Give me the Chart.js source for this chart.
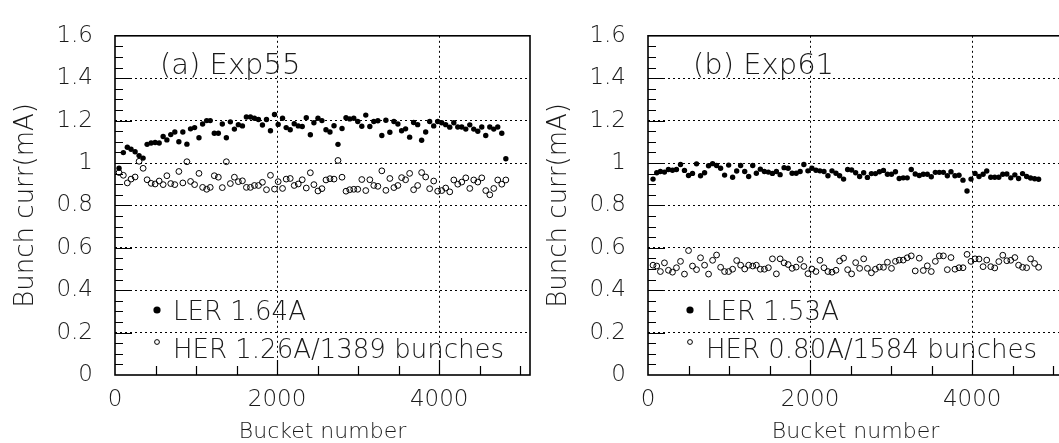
<!DOCTYPE html>
<html><head><meta charset="utf-8">
<script src="https://cdn.jsdelivr.net/npm/chart.js@4.4.1/dist/chart.umd.min.js"></script>
<style>
html,body{margin:0;padding:0;width:1059px;height:443px;overflow:hidden;background:#fff}
#wrap{position:relative;width:1059px;height:443px;overflow:hidden}
canvas{position:absolute;top:0}
#c1{left:0}
#c2{left:533px}
</style></head><body>
<div id="wrap"><canvas id="c1" width="545" height="443"></canvas><canvas id="c2" width="545" height="443"></canvas></div>
<script>
// ---------- data ----------
const bucketsA = [50,103,152,198,248,297,347,396,446,495,545,594,640,688,738,788,837,887,932,982,1036,1081,1131,1175,1225,1275,1324,1374,1423,1473,1522,1572,1621,1671,1720,1770,1819,1869,1918,1968,2013,2067,2112,2162,2211,2261,2310,2360,2410,2454,2504,2553,2603,2652,2702,2751,2801,2850,2896,2946,2995,3045,3094,3144,3193,3243,3292,3342,3391,3441,3490,3536,3585,3635,3684,3734,3783,3833,3882,3932,3981,4031,4080,4130,4180,4229,4278,4328,4377,4426,4476,4525,4574,4624,4673,4722,4772,4822];
const lerA = [0.975,1.049,1.074,1.065,1.053,1.035,1.023,1.088,1.094,1.097,1.094,1.125,1.109,1.134,1.146,1.100,1.146,1.089,1.161,1.167,1.119,1.184,1.200,1.200,1.140,1.140,1.184,1.119,1.194,1.160,1.181,1.175,1.217,1.217,1.211,1.205,1.179,1.205,1.152,1.229,1.182,1.211,1.167,1.157,1.185,1.175,1.172,1.214,1.133,1.190,1.211,1.200,1.157,1.146,1.176,1.088,1.163,1.214,1.208,1.211,1.196,1.173,1.226,1.172,1.196,1.199,1.130,1.202,1.145,1.196,1.184,1.152,1.161,1.122,1.191,1.181,1.107,1.146,1.196,1.175,1.196,1.190,1.181,1.169,1.19,1.17,1.17,1.16,1.18,1.16,1.15,1.17,1.13,1.17,1.16,1.17,1.14,1.02];
const herA = [0.955,0.942,0.906,0.924,0.934,1.008,0.975,0.921,0.904,0.901,0.915,0.898,0.940,0.903,0.898,0.960,0.906,1.006,0.913,0.898,0.951,0.885,0.876,0.885,0.940,0.933,0.884,1.006,0.903,0.933,0.912,0.916,0.885,0.885,0.894,0.894,0.909,0.874,0.942,0.877,0.912,0.880,0.924,0.927,0.894,0.901,0.921,0.882,0.954,0.898,0.868,0.879,0.920,0.926,0.924,1.012,0.933,0.867,0.874,0.876,0.876,0.922,0.870,0.921,0.894,0.890,0.963,0.871,0.927,0.884,0.894,0.931,0.921,0.951,0.874,0.894,0.955,0.934,0.879,0.915,0.867,0.870,0.882,0.864,0.92,0.90,0.91,0.93,0.88,0.92,0.91,0.93,0.87,0.85,0.88,0.92,0.90,0.92];

const bucketsB = [62,108,153,203,252,302,351,401,450,500,549,599,648,698,747,797,846,896,945,995,1044,1094,1143,1193,1242,1292,1337,1386,1436,1485,1535,1584,1630,1679,1729,1778,1828,1877,1923,1973,2022,2072,2121,2171,2220,2270,2319,2364,2413,2463,2512,2562,2611,2661,2707,2756,2806,2855,2905,2954,3004,3053,3099,3149,3198,3248,3297,3347,3396,3446,3495,3545,3594,3644,3693,3738,3787,3837,3886,3936,3985,4035,4084,4134,4179,4229,4278,4328,4377,4427,4476,4526,4572,4621,4671,4720,4770,4819];
const lerB = [0.924,0.954,0.960,0.957,0.969,0.966,0.969,0.993,0.965,0.941,0.951,0.996,0.940,0.954,0.987,0.997,0.988,0.975,0.943,0.990,0.933,0.962,0.988,0.960,0.936,0.988,0.952,0.971,0.960,0.957,0.951,0.960,0.945,0.978,0.975,0.952,0.952,0.960,0.993,0.963,0.975,0.966,0.963,0.960,0.940,0.963,0.952,0.940,0.924,0.969,0.967,0.954,0.936,0.954,0.932,0.950,0.950,0.959,0.965,0.947,0.947,0.959,0.927,0.930,0.930,0.969,0.948,0.941,0.947,0.947,0.935,0.956,0.956,0.956,0.940,0.959,0.940,0.942,0.919,0.868,0.924,0.951,0.936,0.947,0.962,0.933,0.933,0.933,0.947,0.948,0.930,0.944,0.927,0.950,0.936,0.929,0.926,0.923];
const herB = [0.518,0.514,0.488,0.529,0.494,0.485,0.506,0.536,0.476,0.587,0.514,0.497,0.553,0.518,0.476,0.541,0.566,0.508,0.488,0.488,0.499,0.540,0.518,0.500,0.518,0.514,0.518,0.499,0.499,0.506,0.548,0.477,0.548,0.529,0.521,0.503,0.509,0.545,0.512,0.478,0.500,0.488,0.541,0.506,0.488,0.485,0.494,0.538,0.551,0.497,0.477,0.530,0.503,0.548,0.503,0.482,0.499,0.509,0.508,0.532,0.503,0.536,0.542,0.542,0.553,0.562,0.491,0.551,0.493,0.515,0.488,0.536,0.562,0.562,0.497,0.554,0.499,0.506,0.506,0.569,0.536,0.548,0.547,0.511,0.542,0.511,0.505,0.535,0.565,0.539,0.541,0.554,0.518,0.508,0.506,0.548,0.526,0.508];

const yTickValues = [0,0.2,0.4,0.6,0.8,1,1.2,1.4,1.6];
const yGridValues = [0.2,0.4,0.6,0.8,1,1.2,1.4];
const xTickValues = [0,2000,4000];
const xGridValues = [2000,4000];
const panelTitles = ['(a) Exp55','(b) Exp61'];
const lerLabels = ['LER 1.64A','LER 1.53A'];
const herLabels = ['HER 1.26A/1389 bunches','HER 0.80A/1584 bunches'];
const yTitle = 'Bunch curr(mA)';
const xTitle = 'Bucket number';

// ---------- drawing ----------
const FONT = "'DejaVu Sans', 'Liberation Sans', sans-serif";
const W = 200;
const TXT = '#1a1a1a';

const decor = {
  id: 'decor',
  afterDraw(chart, args, opts) {
    const {ctx, chartArea: a, scales: {x, y}} = chart;
    ctx.save();
    ctx.strokeStyle = '#000';
    ctx.lineWidth = 1.2;
    ctx.beginPath();
    for (let k = 1; k < 32; k++) {
      const v = k * 0.05;
      const py = Math.round(y.getPixelForValue(v)) + 0.5;
      const len = (k % 4 === 0) ? 17 : 8;
      ctx.moveTo(a.left, py); ctx.lineTo(a.left + len, py);
    }
    for (let k = 1; k <= 10; k++) {
      const v = k * 500;
      const px = Math.round(x.getPixelForValue(v)) + 0.5;
      const len = (k % 4 === 0) ? 15 : 9;
      ctx.moveTo(px, a.bottom); ctx.lineTo(px, a.bottom - len);
    }
    ctx.stroke();
    // frame
    ctx.lineWidth = 1.6;
    ctx.strokeRect(a.left, a.top, a.right - a.left, a.bottom - a.top);
    // panel title
    ctx.fillStyle = TXT;
    ctx.font = `${W} 29px ${FONT}`;
    ctx.textBaseline = 'middle';
    ctx.textAlign = 'left';
    ctx.fillText(opts.title, a.left + 45, a.top + 31);
    // legend
    const ds = chart.data.datasets;
    ctx.font = `${W} 26px ${FONT}`;
    ctx.fillStyle = '#000';
    ctx.beginPath(); ctx.arc(a.left + 42, 310, 3.6, 0, Math.PI * 2); ctx.fill();
    ctx.fillStyle = TXT;
    ctx.fillText(ds[1].label, a.left + 58, 313);
    ctx.lineWidth = 1;
    ctx.beginPath(); ctx.arc(a.left + 42, 342, 2.4, 0, Math.PI * 2); ctx.stroke();
    ctx.fillText(ds[0].label, a.left + 58, 351);
    ctx.restore();
  }
};

function makeChart(id, buckets, ler, her, idx) {
  return new Chart(document.getElementById(id), {
    type: 'scatter',
    data: {
      datasets: [
        {label: herLabels[idx], data: buckets.map((b, k) => ({x: b, y: her[k]})),
         pointRadius: 2.9, pointBorderWidth: 1, pointBackgroundColor: 'rgba(255,255,255,0)',
         pointBorderColor: '#000', pointHoverRadius: 2.9, showLine: false},
        {label: lerLabels[idx], data: buckets.map((b, k) => ({x: b, y: ler[k]})),
         pointRadius: 2.7, pointBorderWidth: 0, pointBackgroundColor: '#000',
         pointBorderColor: '#000', pointHoverRadius: 2.7, showLine: false}
      ]
    },
    options: {
      responsive: false, animation: false, events: [],
      layout: {padding: {top: 20, right: 15, left: 0, bottom: 0}},
      plugins: {legend: {display: false}, tooltip: {enabled: false}, decor: {title: panelTitles[idx]}},
      scales: {
        x: {
          type: 'linear', min: 0, max: 5120,
          afterBuildTicks: s => { s.ticks = xTickValues.map(v => ({value: v})); },
          afterFit: s => { s.height = 68; },
          grid: {color: c => (c.tick && xGridValues.includes(c.tick.value)) ? '#000' : 'rgba(0,0,0,0)',
                 lineWidth: 1, drawTicks: false},
          border: {display: false, dash: [2, 3]},
          ticks: {padding: 11, color: TXT, font: {family: FONT, size: 23, weight: W}, maxRotation: 0, autoSkip: false,
                  callback: v => String(v)},
          title: {display: true, text: xTitle, color: TXT, font: {family: FONT, size: 22, weight: W, lineHeight: 1},
                  padding: {top: 0, bottom: 0}}
        },
        y: {
          type: 'linear', min: 0, max: 1.6,
          afterBuildTicks: s => { s.ticks = yTickValues.map(v => ({value: v})); },
          afterFit: s => { s.width = 115; },
          grid: {color: c => (c.tick && yGridValues.includes(c.tick.value)) ? '#000' : 'rgba(0,0,0,0)',
                 lineWidth: 1, drawTicks: false},
          border: {display: false, dash: [2, 3]},
          ticks: {padding: 22, color: TXT, font: {family: FONT, size: 23, weight: W}, callback: v => String(v)},
          title: {display: true, text: yTitle, color: TXT, font: {family: FONT, size: 26, weight: W, lineHeight: 1},
                  padding: {top: 13, bottom: 0}}
        }
      }
    },
    plugins: [decor]
  });
}

makeChart('c1', bucketsA, lerA, herA, 0);
makeChart('c2', bucketsB, lerB, herB, 1);
</script>
</body></html>
